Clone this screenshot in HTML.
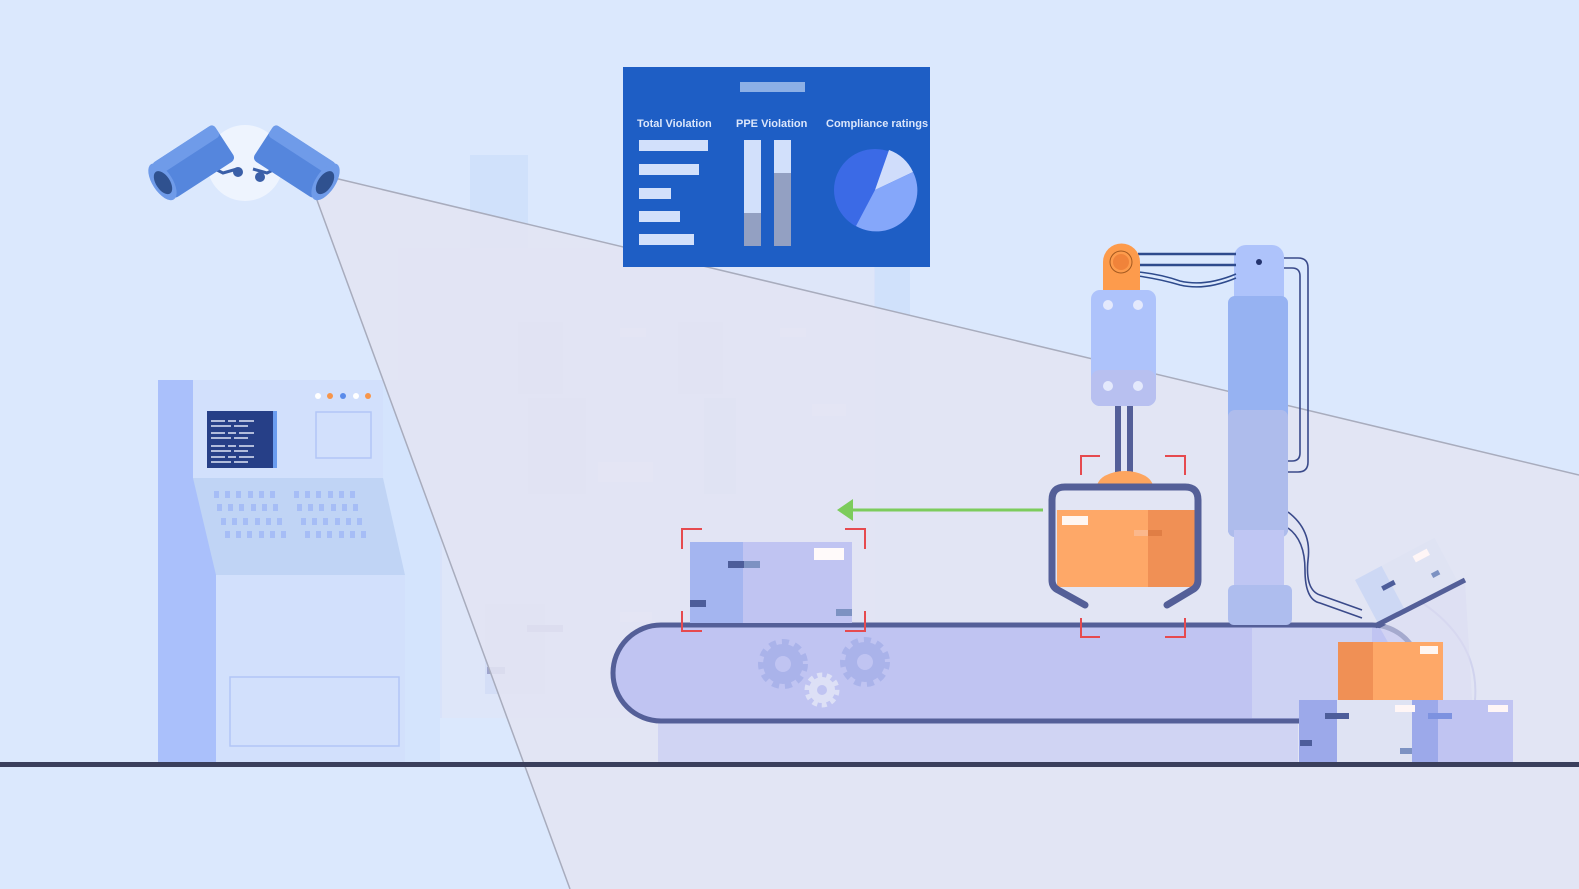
<!DOCTYPE html>
<html><head><meta charset="utf-8"><style>
html,body{margin:0;padding:0;background:#dbe8fd;}
svg{display:block;}
</style></head><body>
<svg width="1579" height="889" viewBox="0 0 1579 889" xmlns="http://www.w3.org/2000/svg">
<rect width="1579" height="889" fill="#dbe8fd"/>

<!-- faded background shelving -->
<g opacity="0.55">
<rect x="470" y="155" width="58" height="100" fill="#c8dcfb"/>
<rect x="398" y="248" width="512" height="470" fill="#d6def8"/>
<rect x="442" y="262" width="432" height="232" fill="#e2e6f6"/>
<rect x="442" y="508" width="432" height="210" fill="#e2e6f6"/>
<rect x="875" y="262" width="35" height="360" fill="#c8dcfb"/>
<rect x="518" y="322" width="45" height="72" fill="#d0d6f3"/>
<rect x="678" y="322" width="45" height="72" fill="#d0d6f3"/>
<rect x="528" y="398" width="58" height="96" fill="#d0d6f3"/>
<rect x="704" y="398" width="32" height="96" fill="#c4cdea"/>
<rect x="598" y="462" width="55" height="20" fill="#f4eef4"/>
<rect x="812" y="404" width="34" height="12" fill="#f4eef4"/>
<rect x="620" y="328" width="26" height="9" fill="#f4eef4"/>
<rect x="780" y="328" width="26" height="9" fill="#f4eef4"/>
<rect x="485" y="604" width="60" height="90" fill="#d0d6f3"/>
<rect x="620" y="612" width="32" height="10" fill="#f4eef4"/>
</g>
<rect x="527" y="625" width="36" height="7" fill="#a9aed2"/>
<rect x="487" y="667" width="18" height="7" fill="#9ea4cc"/>

<!-- left machine -->
<rect x="383" y="380" width="57" height="382" fill="#d4e4fd"/>
<rect x="158" y="380" width="58" height="382" fill="#aac0fb"/>
<rect x="193" y="380" width="190" height="98" fill="#d2e0fc"/>
<polygon points="193,478 383,478 405,575 216,575" fill="#c0d4f5"/>
<rect x="216" y="575" width="189" height="187" fill="#d2e0fc"/>
<rect x="230" y="677" width="169" height="69" fill="none" stroke="#b2c6f6" stroke-width="1.5"/>
<rect x="316" y="412" width="55" height="46" fill="none" stroke="#b2c6f6" stroke-width="1.5"/>
<rect x="207" y="411" width="70" height="57" fill="#263f87"/>
<rect x="273" y="411" width="4" height="57" fill="#6a9cef"/>
<g stroke="#dfe6f7" stroke-width="1.6">
<path d="M211,421h14M228,421h8M239,421h15M211,426h20M234,426h14"/>
<path d="M211,433h14M228,433h8M239,433h15M211,438h20M234,438h14"/>
<path d="M211,446h14M228,446h8M239,446h15M211,451h20M234,451h14"/>
<path d="M211,457h14M228,457h8M239,457h15M211,462h20M234,462h14"/>
</g>
<circle cx="318" cy="396" r="3" fill="#fff"/><circle cx="330" cy="396" r="3" fill="#f7954a"/><circle cx="343" cy="396" r="3" fill="#5a8bea"/><circle cx="356" cy="396" r="3" fill="#fff"/><circle cx="368" cy="396" r="3" fill="#f7954a"/>
<g fill="#a6bdf6">
<g id="kr"><rect x="214" y="491" width="5" height="7"/><rect x="225" y="491" width="5" height="7"/><rect x="236" y="491" width="5" height="7"/><rect x="248" y="491" width="5" height="7"/><rect x="259" y="491" width="5" height="7"/><rect x="270" y="491" width="5" height="7"/><rect x="294" y="491" width="5" height="7"/><rect x="305" y="491" width="5" height="7"/><rect x="316" y="491" width="5" height="7"/><rect x="328" y="491" width="5" height="7"/><rect x="339" y="491" width="5" height="7"/><rect x="350" y="491" width="5" height="7"/></g>
<use href="#kr" x="3" y="13"/><use href="#kr" x="7" y="27"/><use href="#kr" x="11" y="40"/>
</g>

<!-- camera cone -->
<polygon points="330,177 1579,475 1579,889 570,889 314,192" fill="#e3e4f3" opacity="0.88"/>
<path d="M330,177 L1579,475 M314,192 L570,889" stroke="#a8acbd" stroke-width="1.5" fill="none"/>

<!-- floor -->
<rect x="0" y="762" width="1579" height="5" fill="#3a3f5c"/>

<!-- dashboard -->
<rect x="623" y="67" width="307" height="200" fill="#1e5ec5"/>
<rect x="740" y="82" width="65" height="10" fill="#8db0e6"/>
<g font-family="Liberation Sans, sans-serif" font-size="11" font-weight="bold" fill="#dbe6fb">
<text x="637" y="127">Total Violation</text>
<text x="736" y="127">PPE Violation</text>
<text x="826" y="127">Compliance ratings</text>
</g>
<g fill="#d2e0fb">
<rect x="639" y="140" width="69" height="11"/><rect x="639" y="164" width="60" height="11"/><rect x="639" y="188" width="32" height="11"/><rect x="639" y="211" width="41" height="11"/><rect x="639" y="234" width="55" height="11"/>
<rect x="744" y="140" width="17" height="106"/><rect x="774" y="140" width="17" height="106"/>
</g>
<rect x="744" y="213" width="17" height="33" fill="#93a0c2"/>
<rect x="774" y="173" width="17" height="73" fill="#93a0c2"/>
<circle cx="875" cy="190" r="41" fill="#3b6ae6"/>
<path d="M875,190 L889,150 A41,41 0 0 1 913,172 Z" fill="#d0ddfb"/>
<path d="M875,190 L913,172 A41,41 0 0 1 856,226 Z" fill="#85a7fa"/>

<!-- camera -->
<circle cx="245" cy="163" r="38" fill="#eef4fe"/>
<path d="M213,168 l10,5 l14,-4 M277,168 l-10,5 l-14,-4" stroke="#3a5fa8" stroke-width="3" fill="none"/>
<circle cx="238" cy="172" r="5" fill="#3a5fa8"/><circle cx="260" cy="177" r="5" fill="#3a5fa8"/>
<g transform="translate(196,160) rotate(-33)">
<rect x="-40" y="-21" width="74" height="42" rx="5" fill="#5586dd"/>
<rect x="-40" y="-21" width="74" height="14" rx="4" fill="#6f9be9"/>
<ellipse cx="-40" cy="0" rx="10" ry="21" fill="#6f9be9"/>
<ellipse cx="-40" cy="1" rx="7" ry="13" fill="#2f518f"/>
</g>
<g transform="translate(292,160) rotate(33)">
<rect x="-34" y="-21" width="74" height="42" rx="5" fill="#5586dd"/>
<rect x="-34" y="-21" width="74" height="14" rx="4" fill="#6f9be9"/>
<ellipse cx="40" cy="0" rx="10" ry="21" fill="#6f9be9"/>
<ellipse cx="40" cy="1" rx="7" ry="13" fill="#2f518f"/>
</g>

<!-- conveyor -->
<rect x="658" y="719" width="640" height="43" fill="#d0d4f3"/>
<rect x="613" y="625" width="807" height="96" rx="48" fill="#c0c4f2"/>
<rect x="1252" y="628" width="120" height="90" fill="#cdd2f3"/>
<rect x="613" y="625" width="807" height="96" rx="48" fill="none" stroke="#545f98" stroke-width="5"/>
<g fill="none" stroke="#aab3ea">
<circle cx="783" cy="664" r="14" stroke-width="12"/>
<circle cx="783" cy="664" r="22" stroke-width="6" stroke-dasharray="7 5.8"/>
<circle cx="865" cy="662" r="14" stroke-width="12"/>
<circle cx="865" cy="662" r="22" stroke-width="6" stroke-dasharray="7 5.8"/>
</g>
<g fill="none" stroke="#dde0f6">
<circle cx="822" cy="690" r="9" stroke-width="8"/>
<circle cx="822" cy="690" r="15" stroke-width="5" stroke-dasharray="5 4.4"/>
</g>

<!-- box on belt -->
<rect x="690" y="542" width="162" height="81" fill="#c0c4f2"/>
<rect x="690" y="542" width="53" height="81" fill="#a4b5f0"/>
<rect x="814" y="548" width="30" height="12" fill="#fffafa"/>
<rect x="728" y="561" width="16" height="7" fill="#4d5d9a"/><rect x="744" y="561" width="16" height="7" fill="#7d92c2"/>
<rect x="690" y="600" width="16" height="7" fill="#4d5d9a"/><rect x="836" y="609" width="16" height="7" fill="#7d92c2"/>
<g stroke="#e64a4f" stroke-width="2" fill="none">
<path d="M682,549 V529 H702 M845,529 H865 V549 M682,611 V631 H702 M845,631 H865 V611"/>
<path d="M1081,475 V456 H1100 M1165,456 H1185 V475 M1081,618 V637 H1100 M1165,637 H1185 V618"/>
</g>

<!-- green arrow -->
<path d="M1043,510 H850" stroke="#7ccc5c" stroke-width="3"/>
<polygon points="837,510 853,499 853,521" fill="#7ccc5c"/>

<!-- robot column -->
<path d="M1284,258 H1298 Q1308,258 1308,268 V462 Q1308,472 1298,472 H1285" stroke="#3a4a8a" stroke-width="1.6" fill="none"/>
<path d="M1284,268 H1292 Q1300,268 1300,276 V453 Q1300,461 1292,461 H1286" stroke="#3a4a8a" stroke-width="1.6" fill="none"/>
<path d="M1288,512 Q1312,530 1308,560 Q1305,590 1320,595 L1362,610" stroke="#3a4a8a" stroke-width="1.6" fill="none"/>
<path d="M1288,528 Q1305,540 1305,570 Q1305,600 1320,603 L1362,618" stroke="#3a4a8a" stroke-width="1.6" fill="none"/>
<rect x="1234" y="245" width="50" height="70" rx="12" fill="#aec3fb"/>
<circle cx="1259" cy="262" r="3" fill="#23336e"/>
<rect x="1228" y="296" width="60" height="241" rx="7" fill="#96b2f2"/>
<rect x="1228" y="410" width="60" height="127" rx="7" fill="#aebcec"/>
<rect x="1234" y="530" width="50" height="62" fill="#bfc6f3"/>
<rect x="1228" y="585" width="64" height="40" rx="6" fill="#aebdee"/>
<!-- arms -->
<path d="M1138,254 H1236 M1138,265 H1236" stroke="#2e4a8c" stroke-width="2.5"/>
<path d="M1138,272 Q1160,274 1180,281 Q1205,287 1236,274 M1138,276 Q1160,279 1180,285 Q1205,291 1236,278" stroke="#2e4a8c" stroke-width="1.5" fill="none"/>
<path d="M1103,290 V262 A18,18 0 0 1 1140,262 V290 Z" fill="#fd9b4c"/>
<circle cx="1121" cy="262" r="11" fill="none" stroke="#a55a20" stroke-width="1"/>
<circle cx="1121" cy="262" r="8" fill="#f0833a"/>
<rect x="1091" y="290" width="65" height="116" rx="9" fill="#aec3fb"/>
<rect x="1091" y="370" width="65" height="36" rx="9" fill="#b8c0f0"/>
<g fill="#e4e9fc"><circle cx="1108" cy="305" r="5"/><circle cx="1138" cy="305" r="5"/><circle cx="1108" cy="386" r="5"/><circle cx="1138" cy="386" r="5"/></g>
<rect x="1115" y="406" width="6" height="72" fill="#545f98"/><rect x="1127" y="406" width="6" height="72" fill="#545f98"/>
<path d="M1097,487 A28,16 0 0 1 1153,487 Z" fill="#fda55f"/>
<!-- gripper box -->
<rect x="1057" y="510" width="138" height="77" fill="#fea868"/>
<rect x="1148" y="510" width="47" height="77" fill="#f09055"/>
<rect x="1062" y="516" width="26" height="9" fill="#fff6f2"/>
<rect x="1134" y="530" width="14" height="6" fill="#fbb88c"/><rect x="1148" y="530" width="14" height="6" fill="#e07e45"/>
<path d="M1085,605 L1058,590 Q1052,587 1052,580 V500 Q1052,487 1065,487 H1185 Q1198,487 1198,500 V580 Q1198,587 1192,590 L1167,605" stroke="#545f98" stroke-width="7" fill="none" stroke-linecap="round" stroke-linejoin="round"/>

<!-- chute & right boxes -->
<path d="M1418,600 Q1480,640 1475,700" stroke="#d0d3ee" stroke-width="2" fill="none"/>
<polygon points="1380,628 1465,582 1472,700 1420,700" fill="#dcdcf2" opacity="0.6"/>
<g transform="translate(1355,580) rotate(-28)">
<rect x="0" y="0" width="90" height="50" fill="#dfe3f3"/>
<rect x="0" y="0" width="30" height="50" fill="#cdd8f4"/>
<rect x="62" y="6" width="16" height="7" fill="#fff6f6"/>
<rect x="20" y="18" width="14" height="5" fill="#4d5d9a"/><rect x="70" y="30" width="8" height="5" fill="#7d92c2"/>
</g>
<path d="M1375,626 L1465,580" stroke="#545f98" stroke-width="5"/>
<rect x="1338" y="642" width="105" height="58" fill="#fea868"/>
<rect x="1338" y="642" width="35" height="58" fill="#f09055"/>
<rect x="1420" y="646" width="18" height="8" fill="#fff6f2"/>
<rect x="1299" y="700" width="113" height="62" fill="#dfe3f3"/>
<rect x="1299" y="700" width="38" height="62" fill="#9ca9ea"/>
<rect x="1412" y="700" width="101" height="62" fill="#c0c4f2"/>
<rect x="1412" y="700" width="26" height="62" fill="#9ca9ea"/>
<rect x="1395" y="705" width="20" height="7" fill="#fff6f6"/><rect x="1488" y="705" width="20" height="7" fill="#fff6f6"/>
<rect x="1325" y="713" width="24" height="6" fill="#4d5d9a"/><rect x="1300" y="740" width="12" height="6" fill="#4d5d9a"/>
<rect x="1428" y="713" width="24" height="6" fill="#7d92e0"/><rect x="1400" y="748" width="12" height="6" fill="#7d92c2"/>
</svg>
</body></html>
